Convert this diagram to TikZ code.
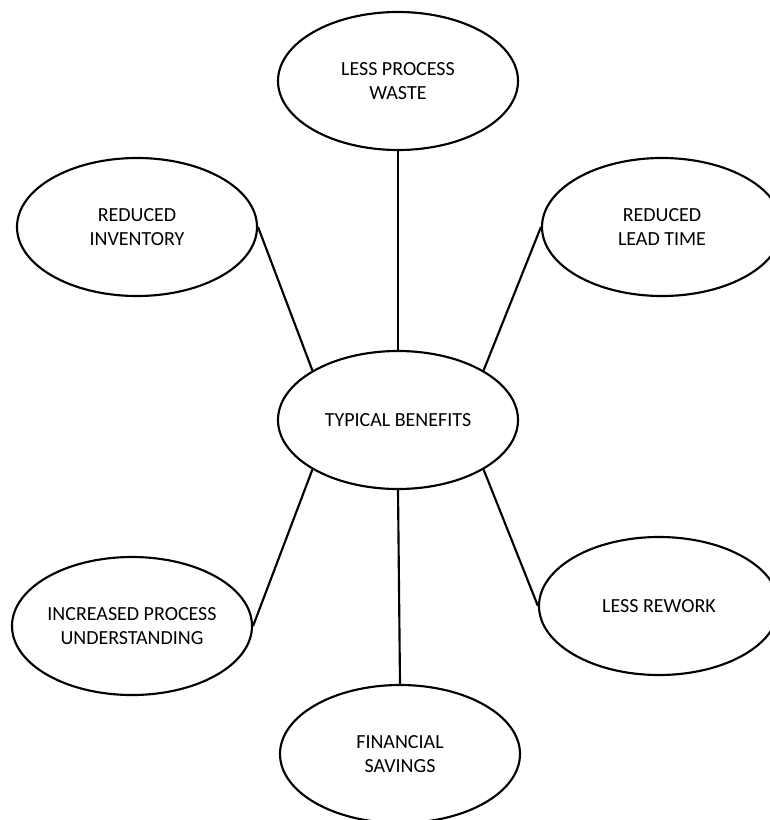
\documentclass[tikz,border=0pt]{standalone}
\usepackage{fontspec}
\setmainfont{Carlito}
\usetikzlibrary{shapes.geometric, positioning}

\begin{document}
\begin{tikzpicture}
        [x=0.75pt, y=-0.75pt, line width=1.6pt,
        benefit/.style={ellipse, draw=black, minimum width=180pt, minimum height=103.5pt, inner sep=0pt, align=center, font=\fontsize{15}{18}\selectfont}]
        \useasboundingbox (0,0) rectangle (770,820);

        \node[benefit]  (typical)   at (398,420)    {TYPICAL BENEFITS};

        \node[benefit]  (waste)     at (398,81)     {LESS PROCESS\\ WASTE};
        \node[benefit]  (inventory) at (137,227)    {REDUCED\\ INVENTORY};
        \node[benefit]  (leadtime)  at (662,227)    {REDUCED\\ LEAD TIME};
        \node[benefit]  (rework)    at (659,606)    {LESS REWORK};
        \node[benefit]  (knowhow)   at (132,626)    {INCREASED PROCESS\\ UNDERSTANDING};
        \node[benefit]  (savings)   at (400,754)    {FINANCIAL\\ SAVINGS};

        \path (typical.north)       edge    (waste.south)
              (typical.north west)  edge    (inventory.east)
              (typical.north east)  edge    (leadtime.west)
              (typical.south east)  edge    (rework.west)
              (typical.south west)  edge    (knowhow.east)
              (typical.south)       edge    (savings.north);
\end{tikzpicture}
\end{document}
